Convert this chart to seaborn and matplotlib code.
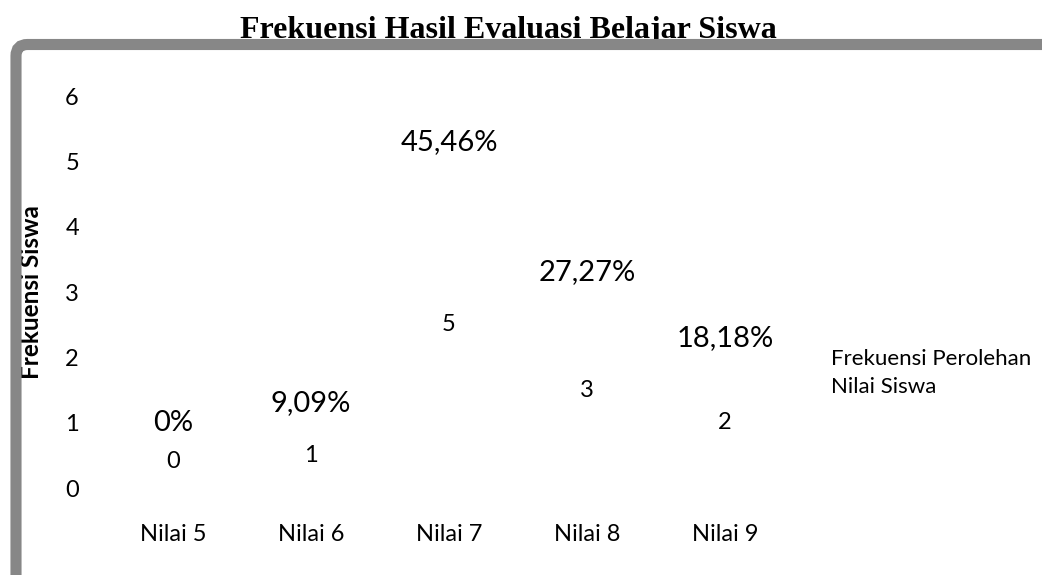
import matplotlib
matplotlib.use("Agg")
import matplotlib.pyplot as plt
from matplotlib.patches import FancyBboxPatch, Patch
import seaborn as sns
import pandas as pd

# data
kategori = ["Nilai 5", "Nilai 6", "Nilai 7", "Nilai 8", "Nilai 9"]
frekuensi = [0, 1, 5, 3, 2]
persen = ["0%", "9,09%", "45,46%", "27,27%", "18,18%"]
yticks = [0, 1, 2, 3, 4, 5, 6]

df = pd.DataFrame({"kategori": kategori, "frekuensi": frekuensi})

sns.set_style("white")
plt.rcParams["font.family"] = ["Lato", "DejaVu Sans"]
for k in ["text.color", "axes.labelcolor", "xtick.color", "ytick.color"]:
    plt.rcParams[k] = "black"

fig = plt.figure(figsize=(10.42, 5.75), dpi=100)
ax = fig.add_axes([0.0998, 0.1513, 0.6622, 0.6817])

# bars have no visible fill in the original
sns.barplot(data=df, x="kategori", y="frekuensi", color="white",
            edgecolor="none", width=0.6, ax=ax)

for i, v in enumerate(frekuensi):
    ax.text(i, max(v / 2, 0.4), str(v), ha="center", va="center", fontsize=17)
    ax.text(i, max(v + 0.3, 1.0), persen[i], ha="center", va="center", fontsize=21)

ax.set_xlim(-0.5, len(kategori) - 0.5)
ax.set_ylim(0, 6)
ax.set_yticks(yticks)
ax.tick_params(axis="both", length=0, labelsize=17)
ax.tick_params(axis="x", pad=26)
ax.tick_params(axis="y", pad=18)
for s in ax.spines.values():
    s.set_visible(False)
ax.set_xlabel("")
ax.set_ylabel("Frekuensi Siswa", fontsize=17.5, fontweight="bold")
ax.yaxis.set_label_coords(-0.088, 0.5)

leg = ax.legend(handles=[Patch(facecolor="white", edgecolor="none",
                               label="Frekuensi Perolehan\nNilai Siswa")],
                loc="center left", bbox_to_anchor=(0.772, 0.352),
                bbox_transform=fig.transFigure, frameon=False, fontsize=16,
                handlelength=0.5, handletextpad=0.3, borderaxespad=0)
for t in leg.get_texts():
    t.set_linespacing(1.5)

fig.text(508 / 1042, 1 - 38 / 575, "Frekuensi Hasil Evaluasi Belajar Siswa",
         ha="center", va="baseline", fontsize=23, fontweight="bold",
         family="Liberation Serif", zorder=1)

# thick grey frame on the top and left edge
frame = FancyBboxPatch((16 / 1042, -0.2), 1.3, 1 - 44.5 / 575 + 0.2,
                       boxstyle="round,pad=0,rounding_size=0.011",
                       transform=fig.transFigure, facecolor="none",
                       edgecolor="#878787", linewidth=8, zorder=3,
                       mutation_aspect=1042 / 575)
fig.patches.append(frame)

fig.savefig("out.png", dpi=100)
